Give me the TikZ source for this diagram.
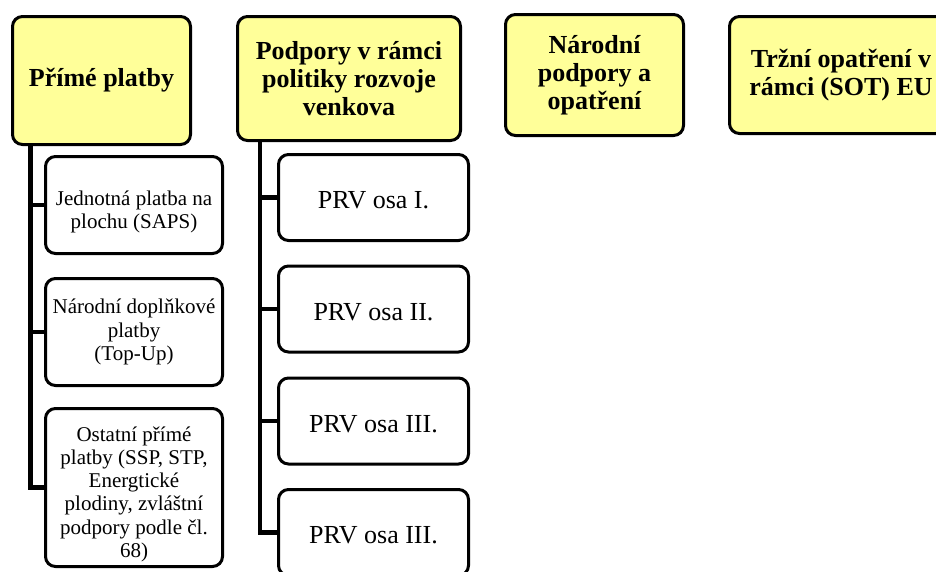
\documentclass[tikz,border=0pt]{standalone}
\usepackage{fontspec}
\setmainfont{Liberation Serif}
\usepackage{tikz}
\definecolor{paleYellow}{RGB}{255,255,153}
\newcommand{\topstrut}[1]{\rule{0pt}{#1}}
\tikzset{
    headbox/.style={draw, line width=3pt, rounded corners=10pt, fill=paleYellow,
        align=center, inner sep=2pt, font=\fontsize{26}{28}\selectfont\bfseries},
    itembox/.style={draw, line width=3pt, rounded corners=10pt, fill=white,
        align=center, inner sep=2pt, font=\fontsize{21}{23.3}\selectfont},
    axisbox/.style={draw, line width=3pt, rounded corners=10pt, fill=white,
        align=center, inner sep=2pt, minimum width=190pt, minimum height=86pt,
        font=\fontsize{26}{30}\selectfont,
        execute at begin node={\topstrut{23pt}}},
    stem/.style={line width=4.5pt}
}

\begin{document}
\begin{tikzpicture}[x=1pt, y=-1pt]
        \useasboundingbox (0, 0) rectangle (936, 571);

        \node[headbox, minimum width=178pt, minimum height=128pt] (prime)    at (101.5, 80.5) {Přímé platby};
        \node[headbox, minimum width=223pt, minimum height=124pt] (rural)    at (349,   78.5) {Podpory v rámci\\politiky rozvoje\\venkova};
        \node[headbox, minimum width=178pt, minimum height=121pt] (national) at (594.5, 75  ) {Národní\\podpory a\\opatření};
        \node[headbox, minimum width=223pt, minimum height=117pt] (market)   at (841,   75  ) {Tržní opatření v\\rámci (SOT) EU};

        \node[itembox, minimum width=177pt, minimum height=97pt ] (primeA) at (134, 205  ) {\topstrut{29pt}Jednotná platba na\\plochu (SAPS)};
        \node[itembox, minimum width=177pt, minimum height=107pt] (primeB) at (134, 332  ) {Národní doplňkové\\platby\\(Top-Up)};
        \node[itembox, minimum width=177pt, minimum height=158pt] (primeC) at (134, 487.5) {\topstrut{28pt}Ostatní přímé\\platby (SSP, STP,\\Energtické\\plodiny, zvláštní\\podpory podle čl.\\68)};

        \node[axisbox] (ruralA) at (373.5, 197.5) {PRV osa I.};
        \node[axisbox] (ruralB) at (373.5, 309  ) {PRV osa II.};
        \node[axisbox] (ruralC) at (373.5, 421  ) {PRV osa III.};
        \node[axisbox] (ruralD) at (373.5, 532.5) {PRV osa III.};

        \coordinate (primeStem) at (30.5, 144.5);
        \coordinate (ruralStem) at (260,  140.5);

        \draw[stem] (primeStem) |- (primeC.west);
        \draw[stem] (primeStem |- primeA.west) -- (primeA.west);
        \draw[stem] (primeStem |- primeB.west) -- (primeB.west);

        \draw[stem] (ruralStem) |- (ruralD.west);
        \draw[stem] (ruralStem |- ruralA.west) -- (ruralA.west);
        \draw[stem] (ruralStem |- ruralB.west) -- (ruralB.west);
        \draw[stem] (ruralStem |- ruralC.west) -- (ruralC.west);
    \end{tikzpicture}
\end{document}
